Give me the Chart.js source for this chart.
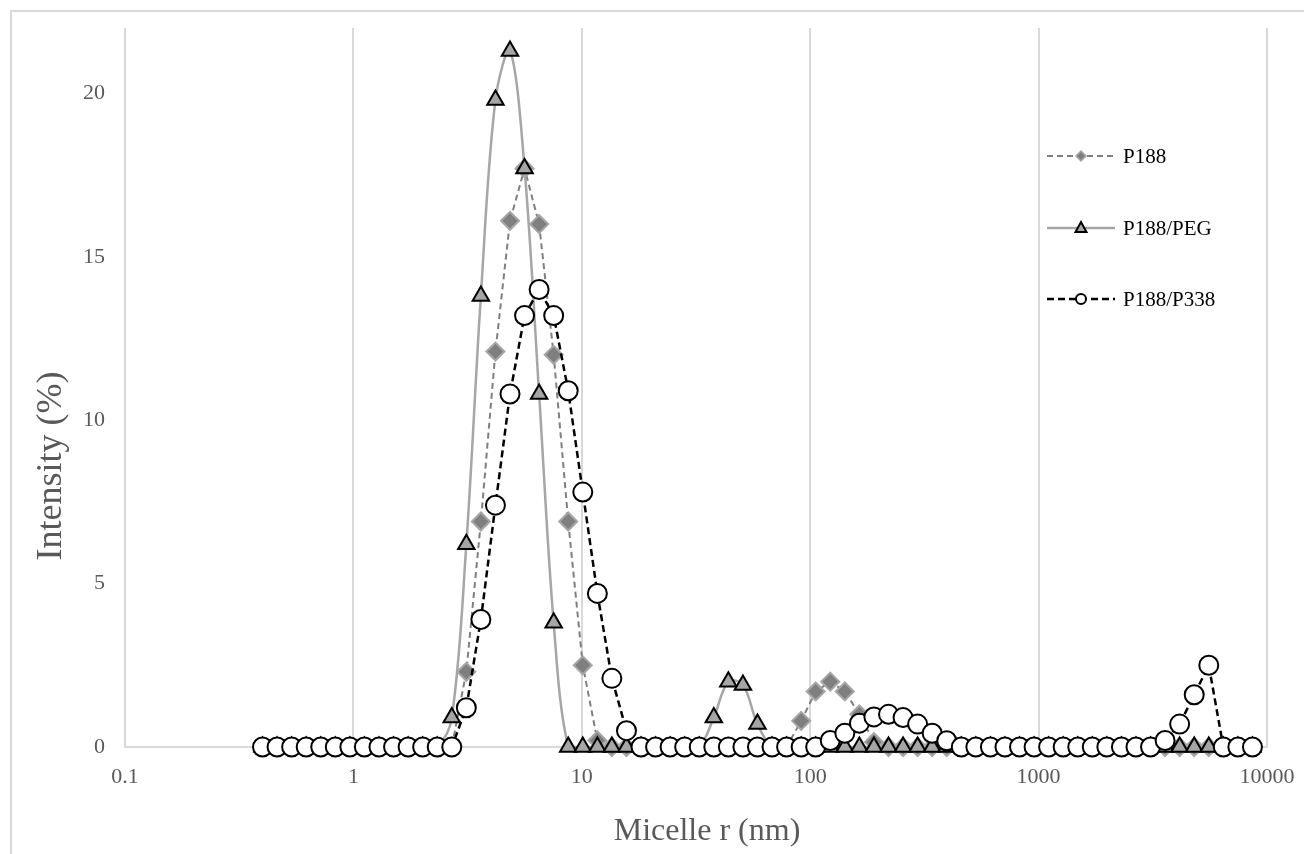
<!DOCTYPE html>
<html>
<head>
<meta charset="utf-8">
<title>Micelle size distribution</title>
<script src="https://cdn.jsdelivr.net/npm/chart.js"></script>
<style>
  html, body { margin: 0; padding: 0; background: #fff; }
  #wrap { width: 1304px; height: 854px; }
</style>
</head>
<body>
<div id="wrap"><canvas id="chart" width="1304" height="854"></canvas></div>
<script>
// size bins (nm)
var sizes = [0.4, 0.4632, 0.5365, 0.6213, 0.7195, 0.8332, 0.9649, 1.117, 1.294, 1.499,
  1.736, 2.01, 2.328, 2.696, 3.122, 3.615, 4.187, 4.849, 5.615, 6.503,
  7.531, 8.721, 10.1, 11.7, 13.54, 15.69, 18.17, 21.04, 24.36, 28.21,
  32.67, 37.84, 43.82, 50.75, 58.77, 68.06, 78.82, 91.28, 105.7, 122.4,
  141.8, 164.2, 190.1, 220.2, 255.0, 295.3, 342.0, 396.1, 458.7, 531.2,
  615.1, 712.4, 825.0, 955.4, 1106, 1281, 1484, 1718, 1990, 2305,
  2669, 3091, 3580, 4145, 4801, 5560, 6439, 7456, 8635];

var p188 = [0, 0, 0, 0, 0, 0, 0, 0, 0, 0,
  0, 0, 0, 0, 2.3, 6.9, 12.1, 16.1, 17.7, 16.0,
  12.0, 6.9, 2.5, 0.2, 0, 0, 0, 0, 0, 0,
  0, 0, 0, 0, 0, 0, 0, 0.8, 1.7, 2.0,
  1.7, 1.0, 0.15, 0, 0, 0, 0, 0, 0, 0,
  0, 0, 0, 0, 0, 0, 0, 0, 0, 0,
  0, 0, 0, 0, 0, 0, 0, 0, 0];

var p188Peg = [0, 0, 0, 0, 0, 0, 0, 0, 0, 0,
  0, 0, 0, 0.9, 6.2, 13.8, 19.8, 21.3, 17.7, 10.8,
  3.8, 0, 0, 0, 0, 0, 0, 0, 0, 0,
  0, 0.9, 2.0, 1.9, 0.7, 0, 0, 0, 0, 0,
  0, 0, 0, 0, 0, 0, 0, 0, 0, 0,
  0, 0, 0, 0, 0, 0, 0, 0, 0, 0,
  0, 0, 0, 0, 0, 0, 0, 0, 0];

var p188P338 = [0, 0, 0, 0, 0, 0, 0, 0, 0, 0,
  0, 0, 0, 0, 1.2, 3.9, 7.4, 10.8, 13.2, 14.0,
  13.2, 10.9, 7.8, 4.7, 2.1, 0.5, 0, 0, 0, 0,
  0, 0, 0, 0, 0, 0, 0, 0, 0, 0.2,
  0.42, 0.73, 0.92, 1.0, 0.9, 0.7, 0.42, 0.19, 0, 0,
  0, 0, 0, 0, 0, 0, 0, 0, 0, 0,
  0, 0, 0.2, 0.7, 1.6, 2.5, 0, 0, 0];

var xTicks = [0.1, 1, 10, 100, 1000, 10000];
var yTicks = [0, 5, 10, 15, 20];

function pts(vals) {
  return sizes.map(function (s, i) { return { x: s, y: vals[i] }; });
}

var serif = "'Liberation Serif', 'Times New Roman', serif";
var labelFont = { family: serif, size: 22 };

var legendItems = [
  { text: 'P188', y: 156, color: '#7f7f7f', dash: [6, 4], width: 2, marker: 'diamond' },
  { text: 'P188/PEG', y: 228, color: '#a6a6a6', dash: [], width: 2.5, marker: 'triangle' },
  { text: 'P188/P338', y: 299, color: '#000000', dash: [7, 4], width: 2.5, marker: 'circle' }
];

var extras = {
  id: 'extras',
  beforeDraw: function (chart) {
    var ctx = chart.ctx;
    ctx.save();
    ctx.fillStyle = '#fff';
    ctx.fillRect(0, 0, chart.width, chart.height);
    ctx.strokeStyle = '#d9d9d9';
    ctx.lineWidth = 2;
    ctx.strokeRect(11, 11, 1400, 1000);
    ctx.restore();
  },
  afterDraw: function (chart) {
    var ctx = chart.ctx;
    ctx.save();
    // axis titles
    ctx.fillStyle = '#595959';
    ctx.textAlign = 'center';
    ctx.textBaseline = 'middle';
    ctx.font = '32px ' + serif;
    ctx.fillText('Micelle r (nm)', 707, 832);
    ctx.save();
    ctx.translate(52, 466);
    ctx.rotate(-Math.PI / 2);
    ctx.font = '36px ' + serif;
    ctx.fillText('Intensity (%)', 0, 0);
    ctx.restore();

    legendItems.forEach(function (it) {
      ctx.beginPath();
      ctx.setLineDash(it.dash);
      ctx.strokeStyle = it.color;
      ctx.lineWidth = it.width;
      ctx.moveTo(1047, it.y);
      ctx.lineTo(1115, it.y);
      ctx.stroke();
      ctx.setLineDash([]);
      var mx = 1081, my = it.y;
      ctx.beginPath();
      if (it.marker === 'diamond') {
        ctx.moveTo(mx - 5, my); ctx.lineTo(mx, my - 5); ctx.lineTo(mx + 5, my); ctx.lineTo(mx, my + 5);
        ctx.closePath();
        ctx.fillStyle = '#7f7f7f'; ctx.fill();
        ctx.strokeStyle = '#a6a6a6'; ctx.lineWidth = 1.5; ctx.stroke();
      } else if (it.marker === 'triangle') {
        ctx.moveTo(mx, my - 6); ctx.lineTo(mx + 5.5, my + 4); ctx.lineTo(mx - 5.5, my + 4);
        ctx.closePath();
        ctx.fillStyle = '#a6a6a6'; ctx.fill();
        ctx.strokeStyle = '#000'; ctx.lineWidth = 2; ctx.stroke();
      } else {
        ctx.arc(mx, my, 5, 0, Math.PI * 2);
        ctx.fillStyle = '#fff'; ctx.fill();
        ctx.strokeStyle = '#000'; ctx.lineWidth = 2; ctx.stroke();
      }
      ctx.fillStyle = '#000';
      ctx.font = '21px ' + serif;
      ctx.textAlign = 'left';
      ctx.textBaseline = 'middle';
      ctx.fillText(it.text, 1123, it.y + 1);
    });
    ctx.restore();
  }
};

new Chart(document.getElementById('chart'), {
  type: 'line',
  data: {
    datasets: [
      {
        label: 'P188',
        data: pts(p188),
        order: 2,
        borderColor: '#7f7f7f',
        borderWidth: 2,
        borderDash: [6, 4],
        pointStyle: 'rectRot',
        pointRadius: 9,
        pointBorderWidth: 2,
        pointBackgroundColor: '#7f7f7f',
        pointBorderColor: '#a6a6a6',
        tension: 0,
        clip: false
      },
      {
        label: 'P188/PEG',
        data: pts(p188Peg),
        order: 1,
        borderColor: '#a6a6a6',
        borderWidth: 2.5,
        pointStyle: 'triangle',
        pointRadius: 9.5,
        pointBorderWidth: 2,
        pointBackgroundColor: '#a6a6a6',
        pointBorderColor: '#000',
        tension: 0.35,
        clip: false
      },
      {
        label: 'P188/P338',
        data: pts(p188P338),
        order: 0,
        borderColor: '#000',
        borderWidth: 2.5,
        borderDash: [7, 4],
        pointStyle: 'circle',
        pointRadius: 9.5,
        pointBorderWidth: 2,
        pointBackgroundColor: '#fff',
        pointBorderColor: '#000',
        tension: 0,
        clip: false
      }
    ]
  },
  options: {
    responsive: false,
    animation: false,
    devicePixelRatio: 1,
    events: [],
    layout: { padding: { top: 28, right: 37, left: 0, bottom: 0 } },
    plugins: {
      legend: { display: false },
      tooltip: { enabled: false }
    },
    scales: {
      x: {
        type: 'logarithmic',
        min: 0.1,
        max: 10000,
        afterBuildTicks: function (scale) {
          scale.ticks = xTicks.map(function (v) { return { value: v }; });
        },
        afterFit: function (scale) {
          scale.height = 107;
          scale.paddingLeft = 0;
          scale.paddingRight = 0;
        },
        grid: { color: '#d9d9d9', lineWidth: 2, drawTicks: false },
        border: { display: true, color: '#d9d9d9', width: 2 },
        ticks: {
          font: labelFont,
          color: '#595959',
          padding: 17,
          maxRotation: 0,
          autoSkip: false,
          callback: function (v) { return String(v); }
        }
      },
      y: {
        min: 0,
        max: 22,
        afterBuildTicks: function (scale) {
          scale.ticks = yTicks.map(function (v) { return { value: v }; });
        },
        afterFit: function (scale) {
          scale.width = 125;
          scale.paddingTop = 0;
          scale.paddingBottom = 0;
        },
        grid: { display: false, drawTicks: false },
        border: { display: false },
        ticks: {
          font: labelFont,
          color: '#595959',
          padding: 20
        }
      }
    }
  },
  plugins: [extras]
});
</script>
</body>
</html>
